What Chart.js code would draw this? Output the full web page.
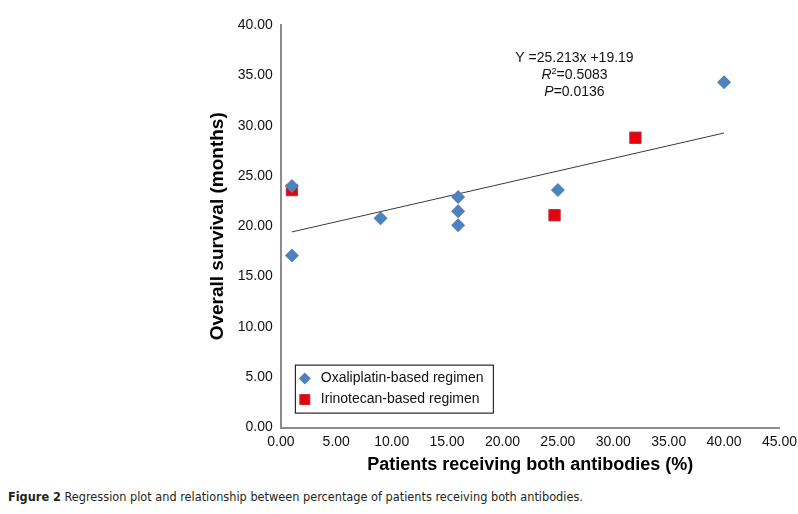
<!DOCTYPE html>
<html>
<head>
<meta charset="utf-8">
<script src="https://cdn.jsdelivr.net/npm/chart.js@4/dist/chart.umd.min.js"></script>
<style>
  html, body { margin: 0; background: #fff; overflow: hidden; }
  #wrap { width: 798px; height: 480px; position: relative; }
  .caption { position: absolute; left: 8px; top: 489px; font-family: "Liberation Sans Narrow", "DejaVu Sans Condensed", sans-serif; font-size: 12.6px; color: #231f20; white-space: nowrap; }
  .caption b { color: #231f20; }
</style>
</head>
<body>
<div id="wrap"><canvas id="chart"></canvas></div>
<div class="caption"><b>Figure 2</b> Regression plot and relationship between percentage of patients receiving both antibodies.</div>
<script>
// percentage of patients receiving both antibodies vs overall survival
const oxaliX = [1, 1, 9, 16, 16, 16, 25, 40];
const oxaliY = [24.0, 17.1, 20.8, 22.9, 21.5, 20.1, 23.6, 34.3];
const irinoX = [1, 24.7, 32];
const irinoY = [23.6, 21.1, 28.8];
const trendX = [1, 40];
const trendY = [19.44, 29.27];
const xTicks = [0, 5, 10, 15, 20, 25, 30, 35, 40, 45];
const yTicks = [0, 5, 10, 15, 20, 25, 30, 35, 40];
const eqLines = ['Y =25.213x +19.19', 'R2=0.5083', 'P=0.0136'];

function pts(xs, ys) {
  return xs.map((x, i) => ({ x: x, y: ys[i] }));
}

const labelFont = '"Liberation Sans", Arial, sans-serif';

// equation text next to the trend line
const eqPlugin = {
  id: 'eq',
  afterDatasetsDraw(chart) {
    const ctx = chart.ctx;
    const cx = chart.scales.x.getPixelForValue(26.5);
    let y = chart.scales.y.getPixelForValue(36.7);
    ctx.save();
    ctx.fillStyle = '#111';
    ctx.textBaseline = 'middle';
    ctx.font = '14px ' + labelFont;
    ctx.textAlign = 'center';
    ctx.fillText(eqLines[0], cx, y);
    y += 17;
    // R2 line with italic R and superscript 2
    const r = 'R', two = '2', rest = eqLines[1].slice(2);
    ctx.font = 'italic 14px ' + labelFont;
    const wR = ctx.measureText(r).width;
    ctx.font = '9px ' + labelFont;
    const w2 = ctx.measureText(two).width;
    ctx.font = '14px ' + labelFont;
    const wRest = ctx.measureText(rest).width;
    let x0 = cx - (wR + w2 + wRest) / 2;
    ctx.textAlign = 'left';
    ctx.font = 'italic 14px ' + labelFont;
    ctx.fillText(r, x0, y);
    ctx.font = '9px ' + labelFont;
    ctx.fillText(two, x0 + wR, y - 4);
    ctx.font = '14px ' + labelFont;
    ctx.fillText(rest, x0 + wR + w2, y);
    y += 17;
    const p = 'P', pRest = eqLines[2].slice(1);
    ctx.font = 'italic 14px ' + labelFont;
    const wP = ctx.measureText(p).width;
    ctx.font = '14px ' + labelFont;
    const wPR = ctx.measureText(pRest).width;
    x0 = cx - (wP + wPR) / 2;
    ctx.font = 'italic 14px ' + labelFont;
    ctx.fillText(p, x0, y);
    ctx.font = '14px ' + labelFont;
    ctx.fillText(pRest, x0 + wP, y);
    ctx.restore();
  }
};

// boxed legend inside the plot, lower left
const boxLegend = {
  id: 'boxLegend',
  afterDraw(chart) {
    const ctx = chart.ctx;
    const area = chart.chartArea;
    const left = area.left + 14, top = area.bottom - 63;
    const w = 198, h = 48;
    ctx.save();
    ctx.fillStyle = '#fff';
    ctx.fillRect(left, top, w, h);
    ctx.strokeStyle = '#000';
    ctx.lineWidth = 1;
    ctx.strokeRect(left + 0.5, top + 0.5, w, h);
    const items = chart.data.datasets.filter(d => d.showInLegend);
    items.forEach((ds, i) => {
      const y = top + 14 + i * 21;
      const x = left + 10;
      ctx.fillStyle = ds.backgroundColor;
      ctx.beginPath();
      if (ds.pointStyle === 'rectRot') {
        ctx.moveTo(x, y - 6); ctx.lineTo(x + 6, y); ctx.lineTo(x, y + 6); ctx.lineTo(x - 6, y);
        ctx.closePath();
        ctx.fill();
      } else {
        ctx.fillRect(x - 5, y - 5, 10, 10);
        ctx.strokeStyle = ds.borderColor;
        ctx.strokeRect(x - 5, y - 5, 10, 10);
      }
      ctx.fillStyle = '#111';
      ctx.font = '14px ' + labelFont;
      ctx.textAlign = 'left';
      ctx.textBaseline = 'middle';
      ctx.fillText(ds.label, x + 16, y);
    });
    ctx.restore();
  }
};

const data = {
  datasets: [
    {
      label: 'trend',
      type: 'line',
      data: pts(trendX, trendY),
      borderColor: '#3a3a3a',
      borderWidth: 1,
      pointRadius: 0,
      fill: false,
      order: 3
    },
    {
      label: 'Oxaliplatin-based regimen',
      data: pts(oxaliX, oxaliY),
      pointStyle: 'rectRot',
      pointRadius: 7,
      backgroundColor: '#4f81bd',
      borderColor: '#4f81bd',
      borderWidth: 0,
      showInLegend: true,
      order: 1
    },
    {
      label: 'Irinotecan-based regimen',
      data: pts(irinoX, irinoY),
      pointStyle: 'rect',
      pointRadius: 8,
      backgroundColor: '#e8000f',
      borderColor: '#b0353a',
      borderWidth: 1,
      showInLegend: true,
      order: 2
    }
  ]
};

const config = {
  type: 'scatter',
  data: data,
  options: {
    responsive: true,
    maintainAspectRatio: false,
    animation: false,
    layout: { padding: { left: 202, top: 25, right: 2, bottom: 0 } },
    plugins: { legend: { display: false }, tooltip: { enabled: false } },
    scales: {
      x: {
        min: 0, max: 45,
        border: { color: '#8c8c8c', width: 2 },
        grid: { display: false, drawOnChartArea: false, drawTicks: true, tickLength: 5, tickColor: '#8c8c8c', tickWidth: 2 },
        afterBuildTicks: s => { s.ticks = xTicks.map(v => ({ value: v })); },
        ticks: { callback: v => v.toFixed(2), color: '#111', font: { family: labelFont, size: 14 }, padding: 1, maxRotation: 0 },
        title: { display: true, text: 'Patients receiving both antibodies (%)', color: '#000', font: { family: labelFont, size: 18, weight: 'bold' }, padding: { top: 3 } }
      },
      y: {
        min: 0, max: 40,
        border: { color: '#8c8c8c', width: 2 },
        grid: { display: false, drawOnChartArea: false, drawTicks: true, tickLength: 5, tickColor: '#8c8c8c', tickWidth: 2 },
        afterBuildTicks: s => { s.ticks = yTicks.map(v => ({ value: v })); },
        ticks: { callback: v => v.toFixed(2), color: '#111', font: { family: labelFont, size: 14 }, padding: 3 },
        title: { display: true, text: 'Overall survival (months)', color: '#000', font: { family: labelFont, size: 19, weight: 'bold' }, padding: { bottom: 6 } }
      }
    }
  },
  plugins: [eqPlugin, boxLegend]
};

const myChart = new Chart(document.getElementById('chart'), config);
</script>
</body>
</html>
